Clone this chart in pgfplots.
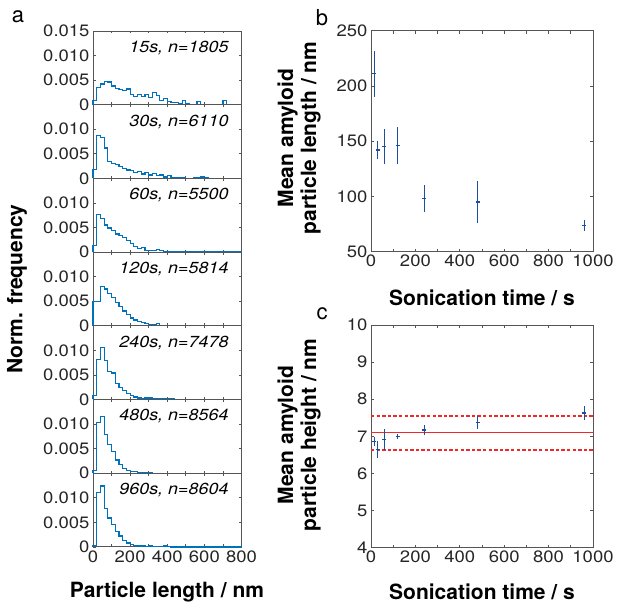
\documentclass[border=0pt]{standalone}
\usepackage{pgfplots}
\pgfplotsset{compat=1.18}
\usepackage{fontspec}
\setmainfont{TeX Gyre Heros}
\newfontfamily\tickfont{TeX Gyre Heros}[FakeStretch=1.12]
\definecolor{histblue}{RGB}{0,114,189}
\definecolor{errblue}{RGB}{30,78,158}
\definecolor{axgray}{RGB}{85,85,85}
\definecolor{redl}{RGB}{240,40,40}
\tikzset{tl/.style={anchor=east, font=\tickfont\fontsize{16}{18}\selectfont\itshape}}
\pgfplotsset{
  base/.style={
    scale only axis,
    /pgf/number format/assume math mode=true,
    scaled y ticks=false, scaled x ticks=false,
    axis line style={axgray, line width=0.9pt},
    every tick/.style={axgray, line width=0.8pt},
    tick align=inside,
    major tick length=2.5pt,
    tick label style={font=\tickfont\fontsize{16.5}{18}\selectfont, text=black!85},
    clip=false,
  },
  hist/.style={
    base,
    width=148.5pt, height=73.7pt,
    xmin=0, xmax=800, ymin=0, ymax=0.015,
    xtick={0,100,...,800}, xticklabels={},
    ytick={0,0.005,0.010}, yticklabels={0,0.005,0.010},
  },
  hl/.style={color=histblue, line width=1.2pt, const plot mark left, mark=none},
  sc/.style={
    base,
    width=222pt,
    xmin=0, xmax=1000,
    xtick={0,100,...,1000}, xticklabels={0,,200,,400,,600,,800,,1000},
    major tick length=3pt,
  },
  eb/.style={color=errblue, line width=1.1pt, mark=+, mark size=2pt, only marks,
    error bars/.cd, y dir=both, y explicit, error mark=none,
    error bar style={errblue, line width=1.1pt}},
  rdash/.style={color=redl, line width=1.9pt, mark=none, dash pattern=on 3.4pt off 2.2pt},
}
\begin{document}
\begin{tikzpicture}[x=1pt,y=1pt]
\useasboundingbox (0,0) rectangle (617,610);
% ---------- panel a ----------
\begin{axis}[hist, at={(93pt,505.3pt)}, anchor=south west,
  ytick={0,0.005,0.010,0.015}, yticklabels={0,0.005,0.010,0.015}]
\addplot[hl] coordinates {(0,0)(0,0.0009)(20,0.0035)(40,0.0042)(60,0.0047)(80,0.0046)(100,0.0038)(120,0.0033)(140,0.0031)(160,0.0029)(180,0.0032)(200,0.0021)(220,0.0016)(240,0.0021)(260,0.0016)(280,0.0021)(300,0.0015)(320,0.0025)(340,0.0019)(360,0.0008)(380,0.0013)(400,0.0006)(420,0.0004)(440,0.0004)(460,0.0003)(480,0.0008)(500,0.0003)(520,0.0001)(540,0)(560,0.0006)(580,0)(700,0.0008)(720,0)(800,0)};
\node[tl] at (rel axis cs:0.936,0.77) {15s, n=1805};
\end{axis}
\begin{axis}[hist, at={(93pt,431.6pt)}, anchor=south west]
\addplot[hl] coordinates {(0,0)(0,0.0018)(20,0.0088)(40,0.0083)(60,0.0062)(80,0.0034)(100,0.0030)(120,0.0028)(140,0.0025)(160,0.0020)(180,0.0017)(200,0.0016)(220,0.0012)(240,0.0014)(260,0.0009)(280,0.0012)(300,0.0007)(320,0.0010)(340,0.0006)(360,0.0007)(380,0.0003)(400,0.0006)(420,0.0002)(440,0.0001)(460,0.0001)(480,0.0001)(500,0)(540,0.0002)(560,0.0001)(580,0.0003)(600,0.0002)(620,0)(800,0)};
\node[tl] at (rel axis cs:0.936,0.77) {30s, n=6110};
\end{axis}
\begin{axis}[hist, at={(93pt,357.9pt)}, anchor=south west]
\addplot[hl] coordinates {(0,0)(0,0.0013)(20,0.0077)(40,0.0068)(60,0.0055)(80,0.0049)(100,0.0044)(120,0.0037)(140,0.0034)(160,0.0029)(180,0.0023)(200,0.0017)(220,0.0011)(240,0.0007)(260,0.0009)(280,0.0004)(300,0.0003)(320,0.0003)(340,0.0005)(360,0.0004)(380,0.0002)(400,0.0002)(420,0.0002)(440,0.0001)(460,0.0002)(480,0.0001)(500,0.0002)(520,0)(800,0)};
\node[tl] at (rel axis cs:0.936,0.77) {60s, n=5500};
\end{axis}
\begin{axis}[hist, at={(93pt,284.2pt)}, anchor=south west]
\addplot[hl] coordinates {(0,0)(0,0.0050)(20,0.0050)(40,0.0080)(60,0.0075)(80,0.0066)(100,0.0057)(120,0.0047)(140,0.0039)(160,0.0030)(180,0.0023)(200,0.0016)(220,0.0012)(240,0.0009)(260,0.0006)(280,0.0004)(300,0.0003)(320,0.0002)(340,0.0004)(360,0.0001)(380,0.0001)(400,0.0001)(420,0)(800,0)};
\node[tl] at (rel axis cs:0.936,0.77) {120s, n=5814};
\end{axis}
\begin{axis}[hist, at={(93pt,210.5pt)}, anchor=south west]
\addplot[hl] coordinates {(0,0)(0,0.0008)(20,0.0081)(40,0.0106)(60,0.0080)(80,0.0057)(100,0.0054)(120,0.0032)(140,0.0025)(160,0.0019)(180,0.0012)(200,0.0008)(220,0.0005)(240,0.0003)(260,0.0002)(280,0.0003)(300,0.0003)(320,0.0002)(340,0.0001)(360,0.0001)(380,0.0002)(400,0.0002)(420,0.0001)(440,0)(800,0)};
\node[tl] at (rel axis cs:0.936,0.77) {240s, n=7478};
\end{axis}
\begin{axis}[hist, at={(93pt,136.8pt)}, anchor=south west]
\addplot[hl] coordinates {(0,0)(0,0.0006)(20,0.0104)(40,0.0115)(60,0.0079)(80,0.0059)(100,0.0044)(120,0.0027)(140,0.0017)(160,0.0010)(180,0.0006)(200,0.0004)(220,0.0003)(240,0.0002)(260,0.0001)(280,0.0001)(300,0.0001)(320,0)(800,0)};
\node[tl] at (rel axis cs:0.936,0.77) {480s, n=8564};
\end{axis}
\begin{axis}[hist, at={(93pt,63.1pt)}, anchor=south west,
  xticklabels={0,,200,,400,,600,,800}]
\addplot[hl] coordinates {(0,0)(0,0.0003)(20,0.0110)(40,0.0124)(60,0.0078)(80,0.0059)(100,0.0046)(120,0.0032)(140,0.0022)(160,0.0013)(180,0.0008)(200,0.0005)(220,0.0003)(240,0.0002)(260,0.0002)(280,0.0001)(300,0.0002)(320,0.0001)(340,0.0001)(360,0.0001)(380,0.0002)(400,0.0001)(420,0)(800,0)};
\node[tl] at (rel axis cs:0.936,0.77) {960s, n=8604};
\end{axis}
% ---------- panel b ----------
\begin{axis}[sc, at={(371pt,358.3pt)}, anchor=south west, height=221pt,
  ymin=50, ymax=250, ytick={50,100,...,250}, yticklabels={50,100,150,200,250}]
\addplot[eb] coordinates {
 (15,211) +- (0,21)
 (30,142) +- (0,8)
 (60,145) +- (0,16)
 (120,146) +- (0,17)
 (240,98) +- (0,12)
 (480,95) +- (0,19)
 (960,74) +- (0,5)
};
\end{axis}
% ---------- panel c ----------
\begin{axis}[sc, at={(371pt,62.3pt)}, anchor=south west, height=222.7pt,
  ymin=4, ymax=10, ytick={4,5,...,10}, yticklabels={4,5,6,7,8,9,10}]
\addplot[color=redl, line width=1.5pt, mark=none] coordinates {(0,7.1)(1000,7.1)};
\addplot[rdash] coordinates {(0,7.56)(1000,7.56)};
\addplot[rdash] coordinates {(0,6.64)(1000,6.64)};
\addplot[eb] coordinates {
 (15,6.86) +- (0,0.11)
 (30,6.64) +- (0,0.23)
 (60,6.91) +- (0,0.28)
 (120,7.0) +- (0,0.07)
 (240,7.17) +- (0,0.14)
 (480,7.37) +- (0,0.17)
 (960,7.63) +- (0,0.2)
};
\end{axis}
% ---------- labels ----------
\node[font=\fontsize{22}{24}\selectfont] at (18,593) {a};
\node[font=\fontsize{22}{24}\selectfont] at (322,592) {b};
\node[font=\fontsize{22}{24}\selectfont] at (322,296) {c};
\node[rotate=90, font=\fontsize{21}{24}\selectfont\bfseries] at (17,321) {Norm. frequency};
\node[font=\fontsize{21}{24}\selectfont\bfseries] at (167,18) {Particle length / nm};
\node[font=\fontsize{21}{24}\selectfont\bfseries] at (482,312) {Sonication time / s};
\node[font=\fontsize{21}{24}\selectfont\bfseries] at (482,18) {Sonication time / s};
\node[rotate=90, align=center, font=\fontsize{21}{23}\selectfont\bfseries] at (299,472) {Mean amyloid\\particle length / nm};
\node[rotate=90, align=center, font=\fontsize{21}{23}\selectfont\bfseries] at (299,175) {Mean amyloid\\particle height / nm};
\end{tikzpicture}
\end{document}
